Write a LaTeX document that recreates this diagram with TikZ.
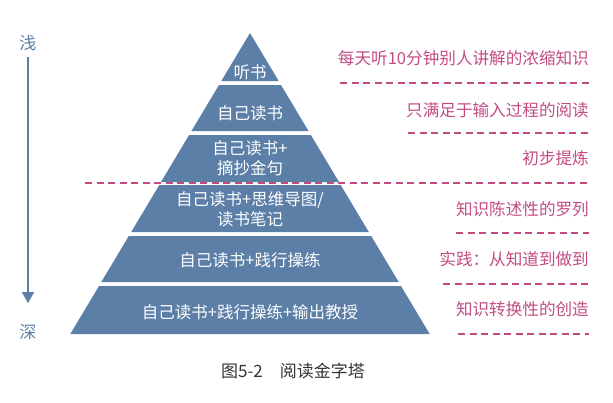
\documentclass[tikz,border=0pt]{standalone}
\usepackage{fontspec}
\setmainfont{Noto Sans CJK SC}
\usepackage{xcolor}
\usetikzlibrary{arrows.meta, positioning, calc}
\definecolor{pyrblue}{HTML}{5B7FA7}
\definecolor{notepink}{HTML}{C24C82}
\definecolor{capgray}{HTML}{333333}

\begin{document}
\begin{tikzpicture}[x=1pt, y=-1pt, >=Stealth,
    band/.style={fill=pyrblue, draw=none},
    bandtext/.style={text=white, font=\fontsize{16.5}{20}\selectfont, align=center, inner sep=0pt},
    note/.style={text=notepink, font=\fontsize{16.6}{18}\selectfont, anchor=east, inner sep=0pt},
    sep/.style={draw=notepink, line width=1.3pt, dash pattern=on 7pt off 4.5pt},
    depth/.style={text=pyrblue, font=\fontsize{17}{18}\selectfont, inner sep=0pt}]
    \useasboundingbox (0,0) rectangle (613,402);

    % pyramid bands
    \fill[band] (250,33) -- (278.7,81) -- (221.3,81) -- cycle;
    \fill[band] (219,85) -- (281,85) -- (308.5,131) -- (191.5,131) -- cycle;
    \fill[band] (189.1,135) -- (310.9,135) -- (339,182) -- (161,182) -- cycle;
    \fill[band] (159.3,185) -- (340.7,185) -- (368.8,232) -- (131.2,232) -- cycle;
    \fill[band] (128.8,236) -- (371.2,236) -- (398.7,282) -- (101.3,282) -- cycle;
    \fill[band] (99,286) -- (401,286) -- (429.7,334) -- (70.3,334) -- cycle;

    \node[bandtext] (ting) at (250,72) {听书};
    \node[bandtext] (zidu) at (250,113) {自己读书};
    \node[bandtext] (zhaichao) at (250,158) {自己读书+\\摘抄金句};
    \node[bandtext] (daotu) at (250,209) {自己读书+思维导图/\\读书笔记};
    \node[bandtext] (shijian) at (250,260) {自己读书+践行操练};
    \node[bandtext] (jiaoshou) at (250,312) {自己读书+践行操练+输出教授};

    % notes on the right
    \node[note] (note1) at (589,58) {每天听10分钟别人讲解的浓缩知识};
    \node[note] (note2) at (589,110) {只满足于输入过程的阅读};
    \node[note] (note3) at (589,158) {初步提炼};
    \node[note] (note4) at (589,209) {知识陈述性的罗列};
    \node[note] (note5) at (589,259) {实践：从知道到做到};
    \node[note] (note6) at (589,309) {知识转换性的创造};

    \draw[sep] (340,83) -- (589,83);
    \draw[sep] (408,133) -- (589,133);
    \draw[sep] (85,183) -- (589,183);
    \draw[sep] (456,233) -- (589,233);
    \draw[sep] (443,284) -- (589,284);
    \draw[sep] (458,334) -- (589,334);

    % shallow to deep
    \node[depth] (qian) at (28,43) {浅};
    \node[depth] (shen) at (28,332) {深};
    \draw[pyrblue, line width=1.5pt, -{Triangle[width=12pt, length=11pt]}, shorten <=6pt, shorten >=21pt] (qian) -- (shen);

    \node[text=capgray, font=\fontsize{17}{18}\selectfont, inner sep=0pt] (caption) at (293,371) {图5-2　阅读金字塔};
\end{tikzpicture}
\end{document}
